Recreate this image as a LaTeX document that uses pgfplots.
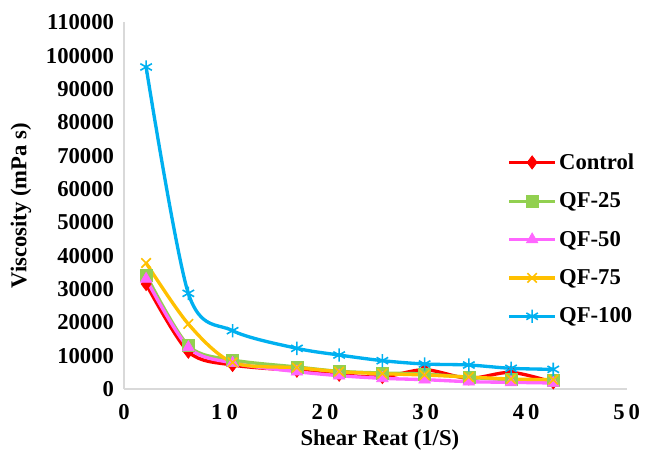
\documentclass[border=0pt]{standalone}
\usepackage{pgfplots}
\pgfplotsset{compat=1.18}
\usepackage{fontspec}
\setmainfont{Liberation Serif}
\definecolor{cred}{RGB}{255,0,0}
\definecolor{cgreen}{RGB}{146,208,80}
\definecolor{cpink}{RGB}{255,102,255}
\definecolor{corange}{RGB}{255,192,0}
\definecolor{cblue}{RGB}{0,176,240}
\begin{document}
\begin{tikzpicture}
\begin{axis}[
  scale only axis,
  width=377pt, height=275pt,
  xmin=0, xmax=50, ymin=0, ymax=110000,
  xtick={0,10,20,30,40,50},
  xticklabels={0,1\hspace{3pt}0,2\hspace{3pt}0,3\hspace{3pt}0,4\hspace{3pt}0,5\hspace{3pt}0},
  ytick={0,10000,20000,30000,40000,50000,60000,70000,80000,90000,100000,110000},
  yticklabels={0,10000,20000,30000,40000,50000,60000,70000,80000,90000,100000,110000},
  scaled y ticks=false,
  tick label style={font=\fontsize{17}{17}\selectfont\bfseries},
  major tick length=0pt,
  axis x line*=bottom, axis y line*=left,
  axis line style={draw=black!15, line width=1pt, -},
  xticklabel style={yshift=-8pt},
  yticklabel style={xshift=-4pt},
  xlabel={Shear Reat (1/S)},
  ylabel={Viscosity (mPa s)},
  every axis x label/.style={at={(axis description cs:0.509,-0.14)}, anchor=center, font=\fontsize{17}{17}\selectfont\bfseries},
  every axis y label/.style={at={(axis description cs:-0.205,0.5)}, anchor=center, rotate=90, font=\fontsize{17}{17}\selectfont\bfseries},
  legend style={draw=none, fill=none, at={(rel axis cs:0.763,0.65)}, anchor=north west,
    font=\fontsize{17}{17}\selectfont\bfseries, row sep=12pt, inner sep=0pt,
    /tikz/every even column/.append style={column sep=3pt}},
  legend cell align=left,
  legend image code/.code={\draw[mark repeat=2,mark phase=2] plot coordinates {(0pt,0pt) (17pt,0pt) (34pt,0pt)};},
  every axis plot/.append style={line width=2.5pt, smooth, tension=0.5},
]
\addplot[color=cred, mark=diamond*, mark size=5pt, mark options={solid, line width=0.5pt}] coordinates {
(2.2,31500) (6.4,11200) (10.8,7200) (17.2,5500) (21.4,4300) (25.7,3600) (29.9,5800) (34.3,3200) (38.5,5000) (42.7,2000)};
\addlegendentry{Control}
\addplot[color=cgreen, mark=square*, mark size=4.5pt, mark options={solid, line width=0.5pt}] coordinates {
(2.2,34200) (6.4,13000) (10.8,8700) (17.2,6600) (21.4,5300) (25.7,4800) (29.9,4500) (34.3,3500) (38.5,2800) (42.7,2700)};
\addlegendentry{QF-25}
\addplot[color=cpink, mark=triangle*, mark size=5pt, mark options={solid, line width=0.5pt}] coordinates {
(2.2,33000) (6.4,12500) (10.8,7800) (17.2,5200) (21.4,4000) (25.7,3200) (29.9,2800) (34.3,2200) (38.5,2000) (42.7,1800)};
\addlegendentry{QF-50}
\addplot[color=corange, mark=x, mark size=5pt, mark options={solid, line width=1.2pt}] coordinates {
(2.2,37800) (6.4,19500) (10.8,8000) (17.2,6400) (21.4,5200) (25.7,4600) (29.9,4200) (34.3,3600) (38.5,3000) (42.7,2800)};
\addlegendentry{QF-75}
\addplot[color=cblue, mark=asterisk, mark size=5pt, mark options={solid, line width=1.2pt}] coordinates {
(2.2,96600) (6.4,28700) (10.8,17500) (17.2,12200) (21.4,10200) (25.7,8500) (29.9,7500) (34.3,7200) (38.5,6200) (42.7,5900)};
\addlegendentry{QF-100}
\end{axis}
\pgfresetboundingbox
\path[use as bounding box] (-93pt,-48.75pt) rectangle (393pt,291.75pt);
\end{tikzpicture}
\end{document}
